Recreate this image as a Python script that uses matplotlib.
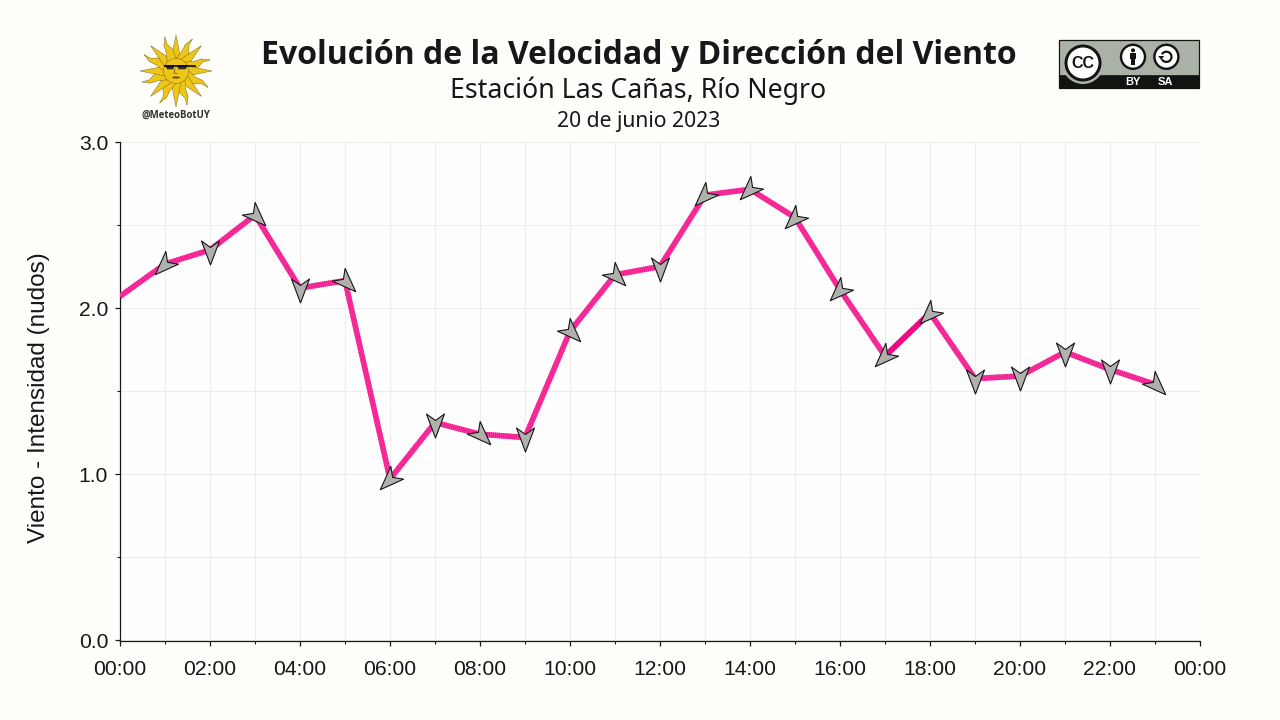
import numpy as np
import matplotlib
matplotlib.use("Agg")
import matplotlib.pyplot as plt
from matplotlib.markers import MarkerStyle
from matplotlib.path import Path
from matplotlib.patches import Polygon, Circle, Rectangle, Ellipse, Wedge
from matplotlib.ticker import MultipleLocator, FuncFormatter, NullFormatter

# ---- data ----
hours = list(range(24))
wind_speed = [2.07, 2.265, 2.35, 2.56, 2.12, 2.165, 0.97, 1.31, 1.24, 1.22, 1.86, 2.20,
              2.25, 2.68, 2.715, 2.545, 2.11, 1.71, 1.97, 1.575, 1.59, 1.735, 1.63, 1.54]
# compass bearing towards which each arrow points (hours 01:00 to 23:00)
arrow_hours = hours[1:]
arrow_bearing = [225, 180, 135, 180, 135, 225, 180, 135, 180, 135, 135,
                 180, 225, 225, 225, 225, 225, 225, 180, 180, 180, 180, 135]
title_text = "Evolución de la Velocidad y Dirección del Viento"
subtitle_text = "Estación Las Cañas, Río Negro"
date_text = "20 de junio 2023"
ylabel_text = "Viento - Intensidad (nudos)"

BG = "#fffefa"
INK = "#17171b"
PINK = "#fa3aa0"
PINK_DARK = "#f0148c"

fig = plt.figure(figsize=(12.8, 7.2), dpi=100, facecolor=BG)
W, H = 1280, 720
ax = fig.add_axes([120 / W, 1 - 641 / H, 1080 / W, 499 / H], facecolor="#fffeff")
ax.set_xlim(0, 24)
ax.set_ylim(-0.006, 3.0)

ax.xaxis.set_major_locator(MultipleLocator(2))
ax.xaxis.set_minor_locator(MultipleLocator(1))
ax.xaxis.set_major_formatter(FuncFormatter(lambda v, p: f"{int(v) % 24:02d}:00"))
ax.yaxis.set_major_locator(MultipleLocator(1))
ax.yaxis.set_minor_locator(MultipleLocator(0.5))
ax.yaxis.set_major_formatter(FuncFormatter(lambda v, p: f"{v:.1f}"))
ax.yaxis.set_minor_formatter(NullFormatter())
ax.grid(True, which="both", color="#eeeee8", lw=0.8)
ax.set_axisbelow(True)
for s in ("top", "right"):
    ax.spines[s].set_visible(False)
for s in ("left", "bottom"):
    ax.spines[s].set_color(INK)
    ax.spines[s].set_linewidth(0.9)
ax.tick_params(which="major", length=3.5, width=0.9, color=INK, labelcolor=INK)
ax.tick_params(axis="x", which="major", pad=10.5)
ax.tick_params(axis="y", which="major", pad=5)
ax.tick_params(which="minor", length=2.5, width=0.8, color=INK)
for lab in ax.get_xticklabels() + ax.get_yticklabels():
    lab.set_fontfamily("Liberation Sans")
    lab.set_fontsize(15.2)

# line: solid base with fine stripes over it
ax.plot(hours, wind_speed, color=PINK, lw=4.0, solid_capstyle="butt", zorder=3)
ax.plot(hours, wind_speed, color=PINK_DARK, lw=4.0, ls=(0, (0.15, 0.2)),
        dash_capstyle="butt", zorder=3.1)
ax.plot(hours[17:19], wind_speed[17:19], color="#ee0a85", lw=4.0, zorder=3.2)

# arrow markers (pointing up before rotation)
arrow_path = Path([(0, 14.5), (9, -9.5), (0, -3), (-9, -9.5), (0, 14.5)],
                  [Path.MOVETO, Path.LINETO, Path.LINETO, Path.LINETO, Path.CLOSEPOLY])
for h, b in zip(arrow_hours, arrow_bearing):
    m = MarkerStyle(arrow_path).rotated(deg=-b)
    ax.plot([h], [wind_speed[h]], marker=m, ms=20.88, mfc="#b0b0ac", mec="#16161a", mew=0.8,
            ls="none", zorder=4, clip_on=False)

ax.set_ylabel(ylabel_text, fontfamily="Liberation Sans", fontsize=17.5, color=INK, labelpad=0)
ax.yaxis.set_label_coords((50 - 120) / 1080, 0.5 + (641 - 398 - 249.5) / 499)

# ---- header layer in pixel coordinates ----
top = fig.add_axes([0, 0, 1, 1], facecolor="none", zorder=5)
top.set_xlim(0, W)
top.set_ylim(H, 0)
top.axis("off")

top.text(638.5, 55, title_text, family="Open Sans", weight="bold", fontsize=23.09,
         color=INK, ha="center", va="center")
top.text(638, 91, subtitle_text, family="Noto Sans", fontsize=19.2, color=INK,
         ha="center", va="center")
top.text(639, 121, date_text, family="Noto Sans", fontsize=15.2, color=INK,
         ha="center", va="center")

# sun emblem
cx, cy = 176, 71
GOLD = "#eec617"
EDGE = "#6a5a20"
for i in range(16):
    a = np.deg2rad(i * 22.5)
    d = np.array([np.sin(a), -np.cos(a)])
    n = np.array([-d[1], d[0]])
    c = np.array([cx, cy])
    if i % 2 == 0:
        pts = [c + d * 11 + n * 5, c + d * 36, c + d * 11 - n * 5]
    else:
        pts = [c + d * 11 + n * 5, c + d * 22 + n * 5, c + d * 28 + n * 2,
               c + d * 36 + n * 3, c + d * 28 - n * 1.5, c + d * 20 - n * 2, c + d * 11 - n * 5]
    top.add_patch(Polygon(pts, closed=True, fc=GOLD, ec=EDGE, lw=0.3))
top.add_patch(Circle((cx, cy), 12.5, fc=GOLD, ec=EDGE, lw=0.3))
top.plot([164, 196], [65.5, 65.5], color="black", lw=1.1, solid_capstyle="butt")
top.add_patch(Polygon([(165, 65.5), (174, 65.5), (173, 69), (167.5, 69)], fc="#333333", ec="black", lw=0.3))
top.add_patch(Polygon([(177, 65.5), (187, 65.5), (185.5, 69), (179, 69)], fc="#333333", ec="black", lw=0.3))
top.add_patch(Ellipse((176, 77.5), 8, 2, fc="#5a4a10", ec="none"))
top.plot([175, 174, 177], [69, 73, 73.5], color="#5a4a10", lw=0.5)
top.text(176, 115, "@MeteoBotUY", family="Open Sans", weight="bold", fontsize=6.9,
         color="#303030", ha="center", va="center")

# CC BY-SA badge
top.add_patch(Rectangle((1058.8, 39.8), 140.4, 48.4, fc="#aab2a8", ec="#121412", lw=0.9))
top.add_patch(Rectangle((1058.8, 74.5), 140.4, 13.7, fc="#121412", ec="#121412", lw=0.5))
top.add_patch(Wedge((1083, 63), 21, 0, 360, fc="#aab2a8", ec="none"))
top.add_patch(Circle((1083, 63), 18.5, fc="#121412", ec="none"))
top.add_patch(Circle((1083, 63), 15.5, fc="white", ec="none"))
top.text(1083, 63.3, "CC", family="Liberation Sans", weight="bold", fontsize=11.5,
         color="#121412", ha="center", va="center")
for x0 in (1133, 1166.4):
    top.add_patch(Circle((x0, 56.8), 13.2, fc="#121412", ec="none"))
    top.add_patch(Circle((x0, 56.8), 10.8, fc="white", ec="none"))
# BY person
top.add_patch(Circle((1133, 50.3), 2, fc="#121412", ec="none"))
top.add_patch(Rectangle((1129.7, 53.3), 6.6, 6, fc="#121412", ec="none"))
top.add_patch(Rectangle((1131.2, 58.5), 3.6, 6, fc="#121412", ec="none"))
# SA loop
top.add_patch(Wedge((1166.4, 56.8), 6.2, -150, 150, width=2.2, fc="#121412", ec="none"))
top.add_patch(Polygon([(1158.2, 56), (1164.2, 56), (1161.2, 60)], fc="#121412", ec="none"))
top.text(1132.5, 81.7, "BY", family="Liberation Sans", weight="bold", fontsize=8, color="white",
         ha="center", va="center")
top.text(1165.5, 81.7, "SA", family="Liberation Sans", weight="bold", fontsize=8, color="white",
         ha="center", va="center")

fig.savefig("out.png", dpi=100, facecolor=BG)
